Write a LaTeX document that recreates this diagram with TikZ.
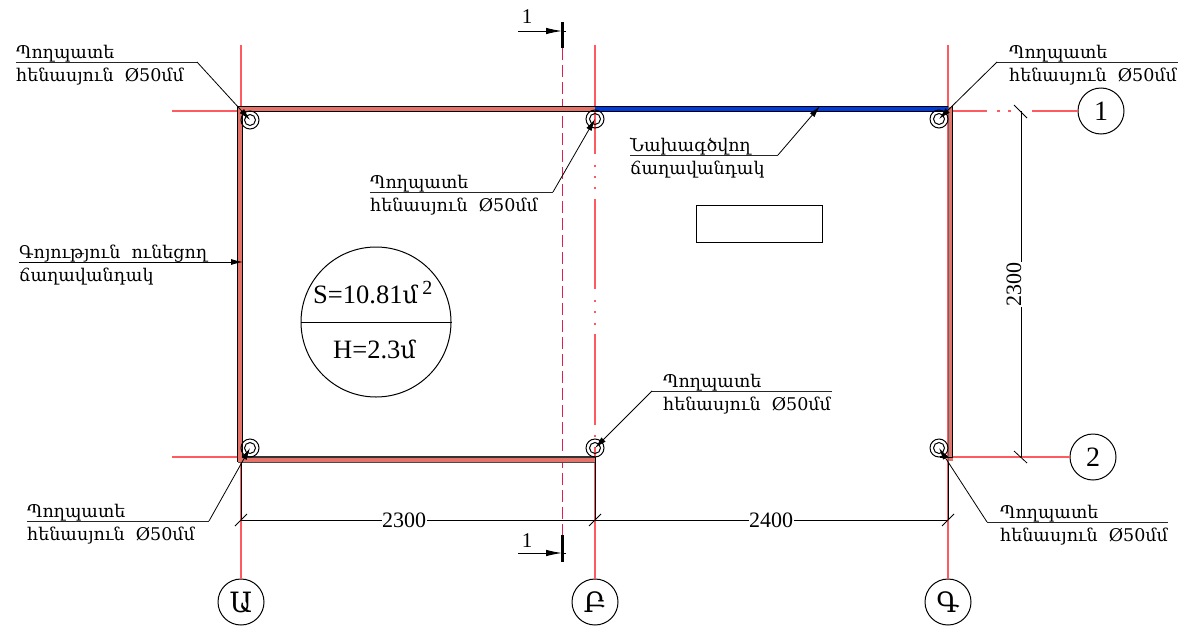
\documentclass[tikz,border=0pt]{standalone}
\usepackage{fontspec}
\setmainfont{Liberation Serif}
\newfontfamily\arm{DejaVu Serif}
\usetikzlibrary{arrows.meta}
\definecolor{axisred}{RGB}{255,90,95}
\definecolor{fencepink}{RGB}{230,115,105}
\definecolor{fenceblue}{RGB}{0,60,220}
\definecolor{cutred}{RGB}{225,30,80}
\tikzset{
  x=1pt,y=-1pt,
  axisline/.style={draw=axisred,line width=1.3pt},
  dimline/.style={draw=black,line width=0.9pt},
  tick/.style={draw=black,line width=0.8pt},
  leaderarrow/.style={draw=black,line width=0.8pt,-{Latex[length=12pt,width=6pt]}},
  cutarrow/.style={draw=black,line width=0.9pt,-{Latex[length=16pt,width=6.5pt]}},
  shelf/.style={draw=black!85,line width=0.9pt},
  armtext/.style={font=\arm\fontsize{17.5}{17.5}\selectfont,inner sep=0pt,anchor=base west},
  bubble/.style={draw=black,line width=1pt,circle,minimum size=46pt,inner sep=0pt,fill=white,font=\fontsize{28}{28}\selectfont},
  armbubble/.style={bubble,font=\arm\fontsize{28}{28}\selectfont},
  dimtext/.style={fill=white,inner sep=0.5pt,font=\fontsize{22}{22}\selectfont},
  cutnum/.style={inner sep=0pt,font=\fontsize{21}{21}\selectfont},
  post/.style={draw=black,line width=1pt,circle,inner sep=0pt},
}
\newcommand{\postname}{Պողպատե}
\newcommand{\postsize}{հենասյուն\ \ Ø50մմ}
\begin{document}
\begin{tikzpicture}
\useasboundingbox (0,0) rectangle (1182,629);
\fill[white] (0,0) rectangle (1182,629);
\coordinate (g1) at (948,111);
% axes
\node[armbubble] (axA) at (241,602) {Ա};
\node[armbubble] (axB) at (595,602) {Բ};
\node[armbubble] (axG) at (948,602) {Գ};
\node[bubble] (ax1) at (1101,111) {1};
\node[bubble] (ax2) at (1093,457) {2};
\coordinate (aT) at (241,45); \coordinate (bT) at (595,45); \coordinate (gT) at (948,45);
\coordinate (oL1) at (172,111); \coordinate (oL2) at (172,457);
\path[axisline] (aT) -- (axA.north);
\path[axisline] (gT) -- (axG.north);
\path[axisline] (oL1) -- (g1);
\path[axisline] (oL2) -- (241,457);
\path[axisline] (948,457) -- (ax2.west);
\path[axisline] (g1) -- (987,111) (997,111) -- (1000,111) (1008,111) -- (1011,111) (1032,111) -- (ax1.west);
\path[axisline] (bT) -- (595,154) (595,164.5) -- (595,166.5) (595,176) -- (595,178) (595,187) -- (595,189)
  (595,199) -- (595,289) (595,300) -- (595,302) (595,311) -- (595,313) (595,322.5) -- (595,324.5) (595,334) -- (595,425) (595,435) -- (595,437) (595,447) -- (axB.north);
% section line
\coordinate (cutT) at (562,48); \coordinate (cutB) at (562,535);
\draw[cutred,line width=0.9pt,dash pattern=on 12pt off 5pt] (cutT) -- (cutB);
% fences
\fill[fencepink] (238,107) rectangle (595,111);
\fill[fencepink] (238,107) rectangle (242,461.5);
\fill[fencepink] (238,458) rectangle (595,461.5);
\fill[fencepink] (948,107) rectangle (953,461);
\fill[fenceblue] (595,107) rectangle (948,111);
\draw[black,line width=1.6pt] (238,106.5) -- (948,106.5);
\draw[black,line width=1.3pt] (241,111.5) -- (948,111.5);
\draw[black,line width=1.5pt] (237.7,106) -- (237.7,462);
\draw[black!70,line width=0.7pt] (238,462) -- (595,462);
\draw[black!80,line width=1.8pt] (242,457.3) -- (595,457.3);
\draw[black,line width=1pt] (595,457) -- (595,462);
\draw[black,line width=0.8pt] (242,112) -- (242,457);
\draw[black!60,line width=0.6pt] (948.3,106) -- (948.3,461.5);
\draw[black,line width=1.6pt] (952.6,106) -- (952.6,457.5) -- (940,457.5);
% extension lines over axes
\draw[dimline] (241,462) -- (241,520) (595,462) -- (595,520) (948,462) -- (948,520);
% posts
\foreach \n/\x/\y in {pA/250/120,pB/595/119,pC/939/119,pD/250/448,pE/595/448,pF/939/448}{
  \node[post,minimum size=18pt] (\n) at (\x,\y) {};
  \node[post,minimum size=11pt] (\n i) at (\x,\y) {};
  \coordinate (\n c) at (\x,\y);
}
% dimensions
\coordinate (dA) at (241,520); \coordinate (dG) at (948,520);
\coordinate (d1) at (1021,111); \coordinate (d2) at (1021,457);
\draw[dimline] (dA) -- (dG);
\draw[dimline] (d1) -- (d2);
\draw[tick] (235,526) -- (247,514) (589,526) -- (601,514) (942,526) -- (954,514);
\draw[tick] (1014,105) -- (1027,118) (1014,451) -- (1027,463);
\node[dimtext] (t2300a) at (404,520) {2300};
\node[dimtext] (t2400) at (771,520) {2400};
\node[dimtext,rotate=90,minimum height=18pt] (t2300b) at (1014,284) {2300};
% section marks
\coordinate (s1a) at (518,31); \coordinate (s1b) at (562,31); \coordinate (s2a) at (518,553); \coordinate (s2b) at (562,553);
\draw[black,line width=3pt] (562,22) -- (562,48) (562,535) -- (562,562);
\draw[cutarrow] (s1a) -- (s1b);
\draw[cutarrow] (s2a) -- (s2b);
\draw[black,line width=0.8pt] (s1b) -- (566,31) (s2b) -- (566,553);
\node[cutnum] (n1a) at (527,17) {1};
\node[cutnum] (n1b) at (527,541) {1};
% area circle
\node[draw=black,line width=1pt,circle,minimum size=150pt,inner sep=0pt] (area) at (376,322) {};
\draw[black,line width=1pt] (area.west) -- (area.east);
\node[inner sep=0pt,anchor=base west,font=\fontsize{26.5}{26.5}\selectfont] (tS) at (313,303) {S=10.81{\arm\fontsize{24}{24}\selectfont մ}\,\raisebox{9pt}{\fontsize{20}{20}\selectfont 2}};
\node[inner sep=0pt,anchor=base west,font=\fontsize{26.5}{26.5}\selectfont] (tH) at (333,358) {H=2.3{\arm\fontsize{24}{24}\selectfont մ}};
% rectangle
\node[draw=black,line width=0.8pt,minimum width=126pt,minimum height=37pt,inner sep=0pt] (box) at (759,223.5) {};
% labels and leaders
\node[armtext] (l1a) at (16,58) {\postname};
\node[armtext] (l1b) at (16,81) {\postsize};
\coordinate (s1l) at (16,62); \coordinate (s1r) at (197,62);
\draw[shelf] (s1l) -- (s1r);
\draw[leaderarrow] (s1r) -- (pAc);

\node[armtext] (l2a) at (1009,58) {\postname};
\node[armtext] (l2b) at (1009,81) {\postsize};
\coordinate (s2l) at (997,62); \coordinate (s2r) at (1178,62);
\draw[shelf] (s2l) -- (s2r);
\draw[leaderarrow] (s2l) -- (pCc);

\node[armtext] (l3a) at (370,188) {\postname};
\node[armtext] (l3b) at (370,211) {\postsize};
\coordinate (s3l) at (370,192); \coordinate (s3r) at (553,192);
\draw[shelf] (s3l) -- (s3r);
\draw[leaderarrow] (s3r) -- (pBc);

\node[armtext] (l4a) at (663,387) {\postname};
\node[armtext] (l4b) at (663,410) {\postsize};
\coordinate (s4l) at (652,391); \coordinate (s4r) at (832,391);
\draw[shelf] (s4r) -- (s4l);
\draw[leaderarrow] (s4l) -- (pEc);

\node[armtext] (l5a) at (27,517) {\postname};
\node[armtext] (l5b) at (27,540) {\postsize};
\coordinate (s5l) at (27,521); \coordinate (s5r) at (209,521);
\draw[shelf] (s5l) -- (s5r);
\draw[leaderarrow] (s5r) -- (pDc);

\node[armtext] (l6a) at (1000,518) {\postname};
\node[armtext] (l6b) at (1000,541) {\postsize};
\coordinate (s6l) at (987,522); \coordinate (s6r) at (1168,522);
\draw[shelf] (s6l) -- (s6r);
\draw[leaderarrow] (s6l) -- (pFc);

\node[armtext] (l7a) at (630,151) {Նախագծվող};
\node[armtext] (l7b) at (630,174) {ճաղավանդակ};
\coordinate (s7l) at (630,155); \coordinate (s7r) at (778,155); \coordinate (s7e) at (820,106);
\draw[shelf] (s7l) -- (s7r);
\draw[leaderarrow] (s7r) -- (s7e);

\node[armtext] (l8a) at (19,258) {Գոյություն\ \ ունեցող};
\node[armtext] (l8b) at (19,281) {ճաղավանդակ};
\coordinate (s8l) at (19,262); \coordinate (s8e) at (243,262);
\draw[leaderarrow] (s8l) -- (s8e);
\end{tikzpicture}
\end{document}
